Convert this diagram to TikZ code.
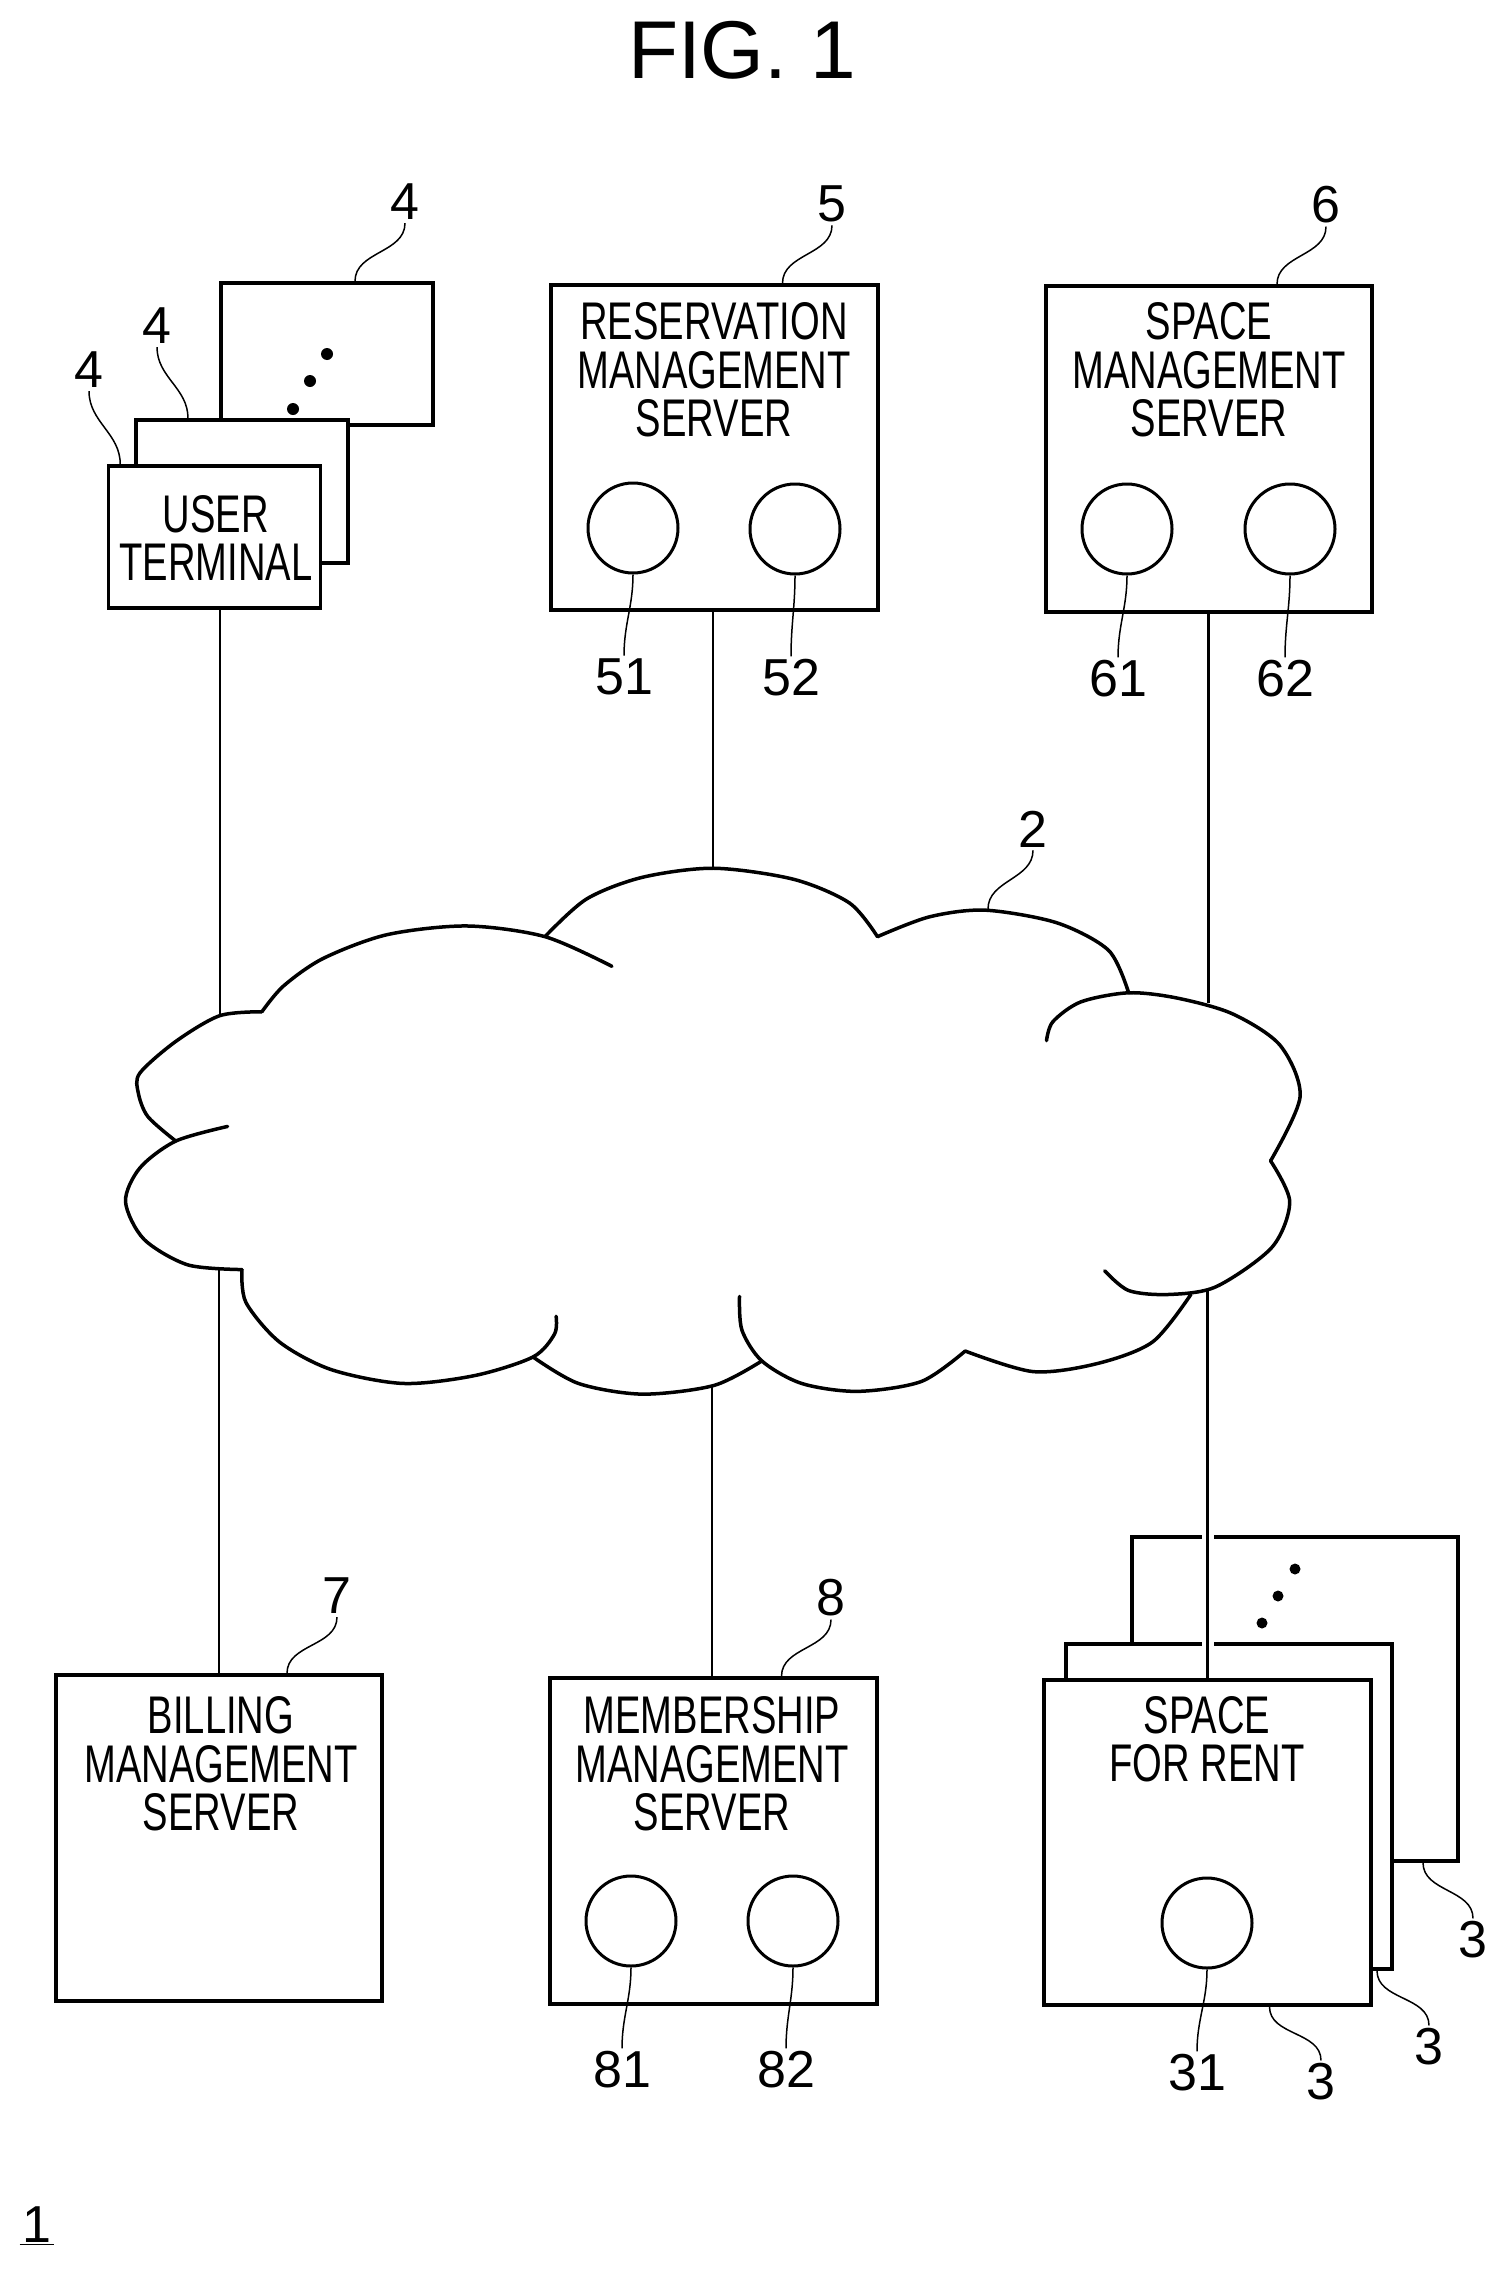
\documentclass[tikz,border=0pt]{standalone}
\usepackage{fontspec}
\setmainfont{Liberation Sans}
\newfontfamily\narrowfont[FakeStretch=0.72]{Liberation Sans}
\usetikzlibrary{calc}

\tikzset{
    box/.style={draw, fill=white, line width=3.5pt, inner sep=0pt, minimum width=#1},
    boxtext/.style={inner sep=0pt, align=center, font=\narrowfont\fontsize{53}{48.5}\selectfont},
    num/.style={inner sep=3pt, font=\fontsize{52}{52}\selectfont},
    disc/.style={draw, circle, line width=3pt, inner sep=0pt, minimum size=90pt},
    conn/.style={line width=2.2pt},
    lead/.style={line width=1.5pt, out=-90, in=90},
    cloudline/.style={line width=3.5pt, line cap=round, line join=round},
}

\begin{document}
\begin{tikzpicture}[x=1pt, y=-1pt]
    \useasboundingbox (0,0) rectangle (1506,2272);

    % Title
    \node[inner sep=0pt, font=\fontsize{82}{82}\selectfont] (title) at (742,50) {FIG. 1};
    \node[num] (num1) at (37,2226) {\underline{\kern3pt 1\kern3pt}};

    % Cloud
    \begin{scope}[shift={(100,820)}, xscale=0.7974, yscale=0.3954]
        \draw[cloudline] plot[smooth] coordinates {(203,485) (150,495) (95,560) (50,640) (48,690) (60,750) (95,812)};
        \draw[cloudline] plot[smooth] coordinates {(160,775) (95,812) (50,880) (32,965) (55,1060) (110,1125) (178,1137)};
        \draw[cloudline] plot[smooth] coordinates {(178,1137) (183,1220) (225,1320) (290,1390) (380,1425) (470,1405) (543,1358) (570,1300) (572,1255)};
        \draw[cloudline] plot[smooth] coordinates {(543,1358) (600,1425) (680,1452) (770,1430) (830,1368)};
        \draw[cloudline] plot[smooth] coordinates {(802,1205) (805,1290) (830,1368) (880,1425) (950,1445) (1030,1420) (1085,1343)};
        \draw[cloudline] plot[smooth] coordinates {(1085,1343) (1170,1395) (1250,1375) (1320,1320) (1368,1200)};
        \draw[cloudline] plot[smooth] coordinates {(1260,1140) (1290,1190) (1340,1200) (1400,1180) (1470,1080) (1492,965) (1468,862)};
        \draw[cloudline] plot[smooth] coordinates {(1468,862) (1505,700) (1480,570) (1420,490) (1350,450) (1290,437) (1230,460) (1195,510) (1187,558)};
        \draw[cloudline] plot[smooth] coordinates {(1290,437) (1265,330) (1200,260) (1110,228) (1040,245) (975,295)};
        \draw[cloudline] plot[smooth] coordinates {(975,295) (940,210) (870,150) (770,122) (680,145) (610,200) (558,295)};
        \draw[cloudline] plot[smooth] coordinates {(642,370) (558,295) (460,268) (360,290) (280,350) (230,420) (203,485)};
    \end{scope}
    \coordinate (cloudul) at (220,1016);
    \coordinate (cloudll) at (219,1270);
    \coordinate (cloudum) at (713,868);
    \coordinate (cloudlm) at (712,1387);
    \coordinate (cloudur) at (1208,1003);
    \coordinate (cloudlr) at (1207.5,1290);
    \coordinate (cloudtag) at (988,909);
    \node[num] (n2) at (1033,829) {2};
    \draw[lead] (n2.south) to (cloudtag);

    % User terminals
    \node[box=212pt, minimum height=142pt] (termback) at (327,354) {};
    \node[box=212pt, minimum height=143pt] (termmid) at (242,491.5) {};
    \node[box=212pt, minimum height=142pt] (termfront) at (214.25,537) {};
    \node[boxtext] (termtext) at (216,538) {USER\\TERMINAL};
    \foreach \x/\y in {327/354, 310/381, 293/409} {
        \fill (\x,\y) circle (6pt);
    }
    \node[num] (n4a) at (405,202) {4};
    \node[num] (n4b) at (157,326) {4};
    \node[num] (n4c) at (89,370) {4};
    \draw[lead] (n4a.south) to ([xshift=28pt]termback.north);
    \draw[lead] (n4b.south) to ([xshift=-54pt]termmid.north);
    \draw[lead] (n4c.south) to ([xshift=-94pt]termfront.north);
    \draw[conn] (termfront.south -| cloudul) -- (cloudul);

    % Reservation management server
    \node[box=327pt, minimum height=325pt] (resv) at (714.5,447.5) {};
    \node[boxtext] (resvtext) at (714,370) {RESERVATION\\MANAGEMENT\\SERVER};
    \node[disc] (c51) at (633,528) {};
    \node[disc] (c52) at (795,529) {};
    \node[num] (n5) at (832,204) {5};
    \node[num] (n51) at (624,677) {51};
    \node[num] (n52) at (791,678) {52};
    \draw[lead] (n5.south) to ([xshift=68pt]resv.north);
    \draw[lead] (c51.south) to (n51.north);
    \draw[lead] (c52.south) to (n52.north);
    \draw[conn] (resv.south -| cloudum) -- (cloudum);

    % Space management server
    \node[box=326pt, minimum height=326pt] (spcm) at (1209,449) {};
    \node[boxtext] (spcmtext) at (1209,370) {SPACE\\MANAGEMENT\\SERVER};
    \node[disc] (c61) at (1127,529) {};
    \node[disc] (c62) at (1290,529) {};
    \node[num] (n6) at (1326,205) {6};
    \node[num] (n61) at (1118,679) {61};
    \node[num] (n62) at (1285,679) {62};
    \draw[lead] (n6.south) to ([xshift=68pt]spcm.north);
    \draw[lead] (c61.south) to (n61.north);
    \draw[lead] (c62.south) to (n62.north);
    \draw[conn, line width=3pt] (spcm.south -| cloudur) -- (cloudur);

    % Billing management server
    \node[box=326pt, minimum height=326pt] (bill) at (219,1838) {};
    \node[boxtext] (billtext) at (221,1764) {BILLING\\MANAGEMENT\\SERVER};
    \node[num] (n7) at (337,1596) {7};
    \draw[lead] (n7.south) to ([xshift=68pt]bill.north);
    \draw[conn] (cloudll) -- (bill.north -| cloudll);

    % Membership management server
    \node[box=327pt, minimum height=326pt] (memb) at (713.5,1841) {};
    \node[boxtext] (membtext) at (712,1764) {MEMBERSHIP\\MANAGEMENT\\SERVER};
    \node[disc] (c81) at (631,1921) {};
    \node[disc] (c82) at (793,1921) {};
    \node[num] (n8) at (831,1598) {8};
    \node[num] (n81) at (622,2070) {81};
    \node[num] (n82) at (786,2070) {82};
    \draw[lead] (n8.south) to ([xshift=68pt]memb.north);
    \draw[lead] (c81.south) to (n81.north);
    \draw[lead] (c82.south) to (n82.north);
    \draw[conn] (cloudlm) -- (memb.north -| cloudlm);

    % Spaces for rent
    \node[box=326pt, minimum height=324pt] (rentback) at (1295,1699) {};
    \node[box=326pt, minimum height=325pt] (rentmid) at (1229,1806.5) {};
    \foreach \b in {rentback, rentmid} {
        \fill[white] ([xshift=-6pt, yshift=6pt]\b.north -| cloudlr) rectangle ([xshift=6pt, yshift=-6pt]\b.north -| cloudlr);
    }
    \node[box=327pt, minimum height=325pt] (rentfront) at (1207.5,1842.5) {};
    \node[boxtext] (renttext) at (1207,1739) {SPACE\\FOR RENT};
    \foreach \x/\y in {1295/1569, 1278/1596, 1262/1623} {
        \fill (\x,\y) circle (5.5pt);
    }
    \node[disc] (c31) at (1207,1923) {};
    \node[num] (n31) at (1197,2073) {31};
    \node[num] (n3a) at (1321,2082) {3};
    \node[num] (n3b) at (1429,2047) {3};
    \node[num] (n3c) at (1473,1940) {3};
    \draw[lead] (c31.south) to (n31.north);
    \draw[lead] ([xshift=62pt]rentfront.south) to (n3a.north);
    \draw[lead] ([xshift=148pt]rentmid.south) to (n3b.north);
    \draw[lead] ([xshift=128pt]rentback.south) to (n3c.north);
    \draw[conn, line width=2.6pt] (cloudlr) -- (rentfront.north -| cloudlr);
\end{tikzpicture}
\end{document}
